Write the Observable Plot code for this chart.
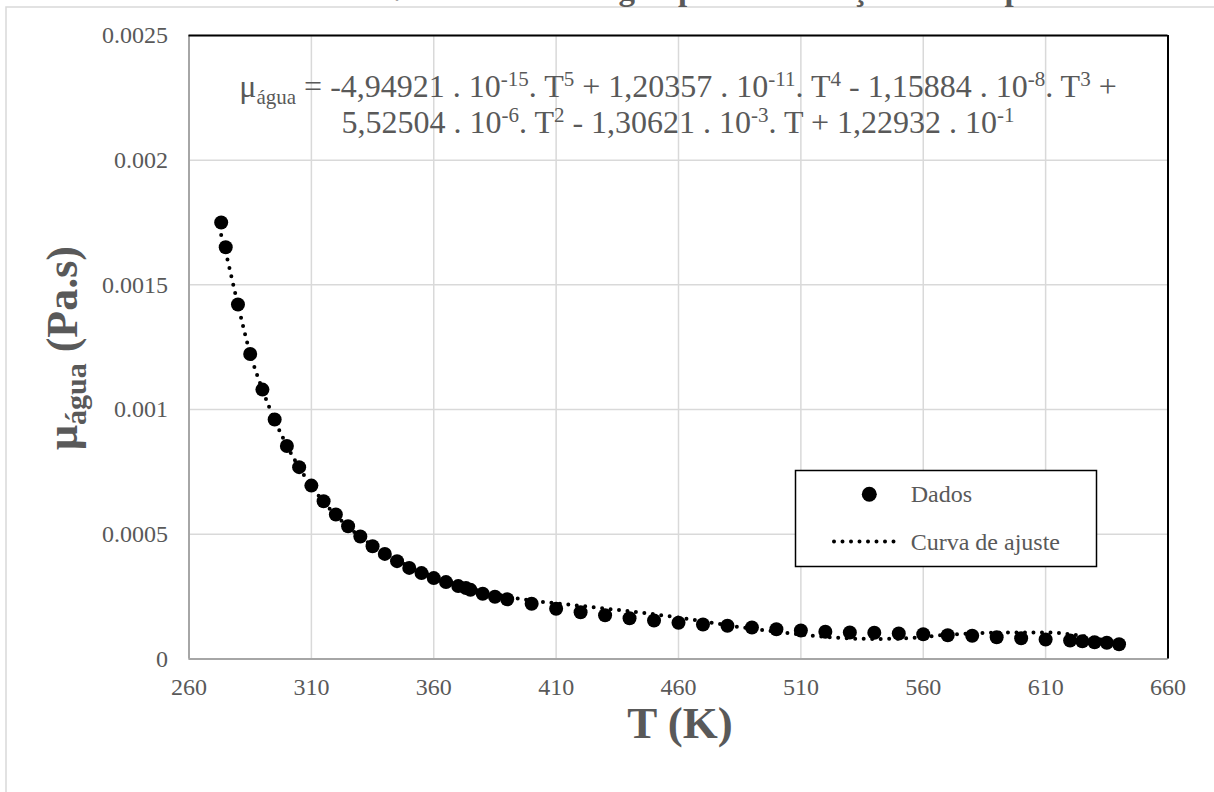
<!DOCTYPE html>
<html><head><meta charset="utf-8">
<script src="https://cdn.jsdelivr.net/npm/d3@7"></script>
<script src="https://cdn.jsdelivr.net/npm/@observablehq/plot@0.6"></script>
<style>
html,body{margin:0;padding:0;background:#fff;overflow:hidden}
#chart{position:relative;width:1214px;height:792px}
</style></head><body><div id="chart"></div>
<script>
// Data points (Dados)
const temperatures = [273.15,275,280,285,290,295,300,305,310,315,320,325,330,335,340,345,350,355,360,365,370,373.15,375,380,385,390,400,410,420,430,440,450,460,470,480,490,500,510,520,530,540,550,560,570,580,590,600,610,620,625,630,635,640];
const viscosities = [0.00175,0.001651,0.001421,0.001223,0.00108,0.00096,0.000854,0.000769,0.000695,0.000632,0.000579,0.000532,0.000491,0.000452,0.000421,0.000392,0.000365,0.000344,0.000324,0.000308,0.000292,0.000284,0.000277,0.000261,0.000249,0.000239,0.000221,0.000201,0.000187,0.000175,0.000163,0.000154,0.000145,0.000138,0.000133,0.000126,0.000119,0.000114,0.000109,0.000106,0.000105,0.000102,0.000099,0.000095,0.000093,0.000087,0.000083,0.000078,0.000074,0.000071,0.000067,0.000065,0.000059];
// Fitted curve (Curva de ajuste)
const fitTemperatures = [273.15,275,280,285,290,295,300,305,310,315,320,325,330,335,340,345,350,355,360,370,380,390,400,410,420,430,440,450,460,470,480,490,500,510,520,530,540,550,560,570,580,590,600,610,615,620,625,630,635,640];
const fitViscosities = [0.00170,0.00163,0.00142,0.001225,0.00108,0.000958,0.000855,0.000768,0.000693,0.00063,0.000576,0.00053,0.00049,0.000455,0.000424,0.000396,0.000371,0.00035,0.00033,0.000298,0.000271,0.00025,0.000234,0.000223,0.000213,0.000202,0.000191,0.000179,0.000166,0.000151,0.000135,0.000121,0.000109,0.000098,0.000088,0.000082,0.00008,0.000081,0.000088,0.000097,0.000102,0.000105,0.000106,0.000106,0.000104,0.000099,0.000092,0.000083,0.000072,0.00006];
const xTicks = [260,310,360,410,460,510,560,610,660];
const yTicks = [0,0.0005,0.001,0.0015,0.002,0.0025];
const yTickLabels = ["0","0.0005","0.001","0.0015","0.002","0.0025"];
const titleText = "Viscosidade da água pura em função da temperatura";
const legendLabels = ["Dados","Curva de ajuste"];

const data = temperatures.map((t,i)=>({T:t, mu:viscosities[i]}));
const fit = fitTemperatures.map((t,i)=>({T:t, mu:fitViscosities[i]}));
const FONT = "'Liberation Serif','Times New Roman',serif";
const GRAY = "#595959";

const plot = Plot.plot({
  width:1214, height:792,
  marginLeft:188.5, marginRight:46.5, marginTop:35, marginBottom:133.6,
  style:{fontFamily:FONT, fontSize:"24px", color:GRAY, background:"#fff", overflow:"visible"},
  x:{domain:[260,660], label:null},
  y:{domain:[0,0.0025], label:null},
  marks:[
    Plot.gridX(xTicks,{stroke:"#d9d9d9", strokeOpacity:1, strokeWidth:1.5}),
    Plot.gridY(yTicks,{stroke:"#d9d9d9", strokeOpacity:1, strokeWidth:1.5}),
    Plot.ruleY([0],{stroke:"#a6a6a6", strokeWidth:2}),
    Plot.ruleX([260],{stroke:"#a6a6a6", strokeWidth:2}),
    Plot.ruleY([0.0025],{stroke:"#000", strokeWidth:2}),
    Plot.ruleX([660],{stroke:"#000", strokeWidth:2}),
    Plot.line(fit,{x:"T", y:"mu", stroke:"#000", strokeWidth:4, strokeDasharray:"0 8.5", strokeLinecap:"round", curve:"monotone-x"}),
    Plot.dot(data,{x:"T", y:"mu", r:7, fill:"#000", stroke:"none"}),
    Plot.axisX(xTicks,{tickSize:0, tickPadding:19, fill:GRAY, fontSize:24}),
    Plot.axisY(yTicks,{tickSize:0, tickPadding:21, fill:GRAY, fontSize:24, tickFormat:(d)=>yTickLabels[yTicks.indexOf(d)]})
  ]
});
document.getElementById("chart").appendChild(plot);

const svg = d3.select(plot);
// outer chart border
svg.insert("rect",":first-child").attr("x",6).attr("y",7).attr("width",1400).attr("height",1000)
  .attr("fill","none").attr("stroke","#d9d9d9").attr("stroke-width",1.5);
// title (clipped at top: only descenders visible)
svg.append("text").attr("x",757).attr("y",0).attr("text-anchor","middle")
  .attr("font-family",FONT).attr("font-weight","bold").attr("font-size",33).attr("fill",GRAY).text(titleText);

// equation
function eqLine(y, parts){
  const t = svg.append("text").attr("x",678).attr("y",y).attr("text-anchor","middle")
    .attr("font-family",FONT).attr("font-size",32).attr("fill",GRAY);
  let shift = 0;
  parts.forEach(p=>{
    const [txt, kind] = p;
    const ts = t.append("tspan").text(txt);
    let target = kind==="sup"? -11 : kind==="sub"? 7 : 0;
    ts.attr("dy", target - shift);
    if(kind) ts.attr("font-size",21);
    shift = target;
  });
}
eqLine(97,[["μ"],["água","sub"],[" = -4,94921 . 10"],["-15","sup"],[". T"],["5","sup"],[" + 1,20357 . 10"],["-11","sup"],[". T"],["4","sup"],[" - 1,15884 . 10"],["-8","sup"],[". T"],["3","sup"],[" +"]]);
eqLine(133,[["5,52504 . 10"],["-6","sup"],[". T"],["2","sup"],[" - 1,30621 . 10"],["-3","sup"],[". T + 1,22932 . 10"],["-1","sup"]]);

// axis titles
svg.append("text").attr("x",680).attr("y",738).attr("text-anchor","middle")
  .attr("font-family",FONT).attr("font-weight","bold").attr("font-size",45).attr("fill",GRAY).text("T (K)");
const yt = svg.append("text").attr("transform","translate(77,348) rotate(-90)").attr("text-anchor","middle")
  .attr("font-family",FONT).attr("font-weight","bold").attr("font-size",44).attr("fill",GRAY);
yt.append("tspan").text("μ");
yt.append("tspan").attr("font-size",30).attr("dy",9).text("água");
yt.append("tspan").attr("dy",-9).text(" (Pa.s)");

// legend
const lg = svg.append("g").attr("text-anchor","start");
lg.append("rect").attr("x",795.5).attr("y",470.5).attr("width",301).attr("height",96)
  .attr("fill","#fff").attr("stroke","#000").attr("stroke-width",1.5);
lg.append("circle").attr("cx",869.3).attr("cy",494.3).attr("r",7.5).attr("fill","#000");
lg.append("line").attr("x1",834).attr("x2",897).attr("y1",541.5).attr("y2",541.5)
  .attr("stroke","#000").attr("stroke-width",4).attr("stroke-dasharray","0 8.5").attr("stroke-linecap","round");
lg.append("text").attr("x",910.7).attr("y",502).attr("text-anchor","start").attr("font-family",FONT).attr("font-size",24).attr("fill",GRAY).text(legendLabels[0]);
lg.append("text").attr("x",910.7).attr("y",549.5).attr("text-anchor","start").attr("font-family",FONT).attr("font-size",24).attr("fill",GRAY).text(legendLabels[1]);
</script>
</body></html>
